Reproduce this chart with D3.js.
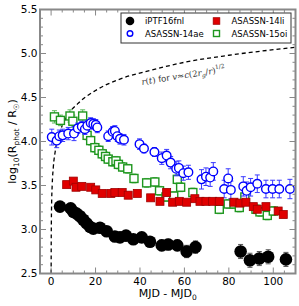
<!DOCTYPE html>
<html>
<head>
<meta charset="utf-8">
<script src="https://cdn.jsdelivr.net/npm/d3@7"></script>
<style>
  body { margin: 0; background: #fff; }
  svg { display: block; font-family: "DejaVu Sans", sans-serif; }
</style>
</head>
<body>
<div class="chart"></div>
<script>
// iPTF16fnl (filled black circles)
const fnlT = [4.0, 8.8, 10.0, 11.5, 13.0, 14.5, 16.0, 17.5, 19.0, 22.0, 25.0, 28.7, 31.0, 33.7, 37.0, 40.8, 44.5, 49.8, 52.7, 56.8, 61.0, 65.0, 85.3, 89.5, 93.7, 97.7, 105.7];
const fnlV = [3.26, 3.24, 3.20, 3.18, 3.15, 3.11, 3.07, 3.03, 3.01, 3.02, 2.98, 2.92, 2.91, 2.93, 2.89, 2.91, 2.86, 2.82, 2.83, 2.82, 2.75, 2.80, 2.75, 2.65, 2.67, 2.69, 2.66];
const fnlE = [0.05, 0.03, 0.03, 0.03, 0.03, 0.03, 0.03, 0.04, 0.04, 0.04, 0.05, 0.05, 0.05, 0.05, 0.05, 0.05, 0.05, 0.06, 0.06, 0.06, 0.07, 0.07, 0.08, 0.08, 0.08, 0.08, 0.08];

// ASASSN-14ae (open blue circles)
const aeT = [0.3, 2.5, 3.7, 5.2, 7.7, 10.3, 12.0, 13.8, 15.2, 16.3, 17.8, 19.0, 20.1, 20.8, 25.7, 27.7, 28.7, 29.8, 31.0, 32.8, 39.8, 41.8, 46.5, 49.8, 52.0, 53.8, 56.3, 57.5, 59.5, 61.8, 67.7, 69.7, 71.6, 73.0, 77.9, 79.7, 80.9, 86.5, 88.0, 89.8, 92.8, 96.7, 99.7, 102.7, 107.5];
const aeV = [4.05, 4.01, 4.06, 4.07, 4.09, 4.09, 4.15, 4.17, 4.14, 4.18, 4.21, 4.20, 4.19, 4.16, 4.06, 4.11, 4.12, 4.06, 4.03, 4.02, 3.97, 3.92, 3.88, 3.81, 3.84, 3.76, 3.69, 3.70, 3.64, 3.65, 3.57, 3.60, 3.59, 3.66, 3.46, 3.58, 3.45, 3.49, 3.44, 3.48, 3.52, 3.46, 3.46, 3.46, 3.46];
const aeE = [0.09, 0.08, 0.07, 0.07, 0.07, 0.08, 0.06, 0.06, 0.06, 0.06, 0.06, 0.06, 0.06, 0.06, 0.06, 0.06, 0.06, 0.06, 0.06, 0.06, 0.06, 0.05, 0.05, 0.07, 0.07, 0.07, 0.08, 0.08, 0.08, 0.08, 0.11, 0.1, 0.1, 0.1, 0.1, 0.11, 0.1, 0.11, 0.1, 0.1, 0.1, 0.1, 0.1, 0.1, 0.11];

// ASASSN-14li (filled red squares)
const liT = [7.0, 10.0, 11.2, 13.8, 17.8, 20.1, 23.0, 26.9, 28.7, 32.0, 34.7, 38.8, 44.8, 49.0, 52.0, 54.7, 57.7, 61.0, 64.7, 67.0, 69.7, 72.7, 75.7, 82.3, 85.0, 87.7, 91.0, 92.8, 96.7, 102.2, 104.5];
const liV = [3.51, 3.55, 3.48, 3.49, 3.48, 3.45, 3.41, 3.41, 3.42, 3.42, 3.39, 3.41, 3.36, 3.32, 3.42, 3.31, 3.32, 3.31, 3.35, 3.32, 3.32, 3.32, 3.32, 3.31, 3.30, 3.31, 3.26, 3.23, 3.26, 3.21, 3.17];
const liE = [0.03, 0.03, 0.03, 0.03, 0.03, 0.03, 0.03, 0.03, 0.03, 0.03, 0.04, 0.03, 0.03, 0.03, 0.04, 0.03, 0.03, 0.03, 0.03, 0.03, 0.03, 0.03, 0.03, 0.03, 0.03, 0.03, 0.03, 0.03, 0.03, 0.03, 0.03];

// ASASSN-15oi (open green squares)
const oiT = [1.5, 4.2, 8.5, 9.8, 14.2, 16.2, 17.8, 19.7, 21.5, 23.0, 24.5, 25.7, 27.8, 29.2, 30.3, 32.2, 34.5, 37.3, 43.0, 46.7, 48.8, 51.7, 55.2, 56.8, 58.3, 63.8, 75.7, 79.7, 82.3, 84.7, 87.2, 92.2, 94.0, 97.3, 100.0];
const oiV = [4.28, 4.24, 4.29, 4.23, 4.29, 4.07, 4.01, 3.93, 3.90, 3.86, 3.83, 3.80, 3.77, 3.78, 3.74, 3.71, 3.69, 3.58, 3.53, 3.54, 3.44, 3.37, 3.38, 3.57, 3.48, 3.42, 3.23, 3.29, 3.29, 3.25, 3.37, 3.23, 3.20, 3.16, 3.21];
const oiE = [0.07, 0.06, 0.07, 0.07, 0.07, 0.05, 0.05, 0.05, 0.05, 0.05, 0.05, 0.05, 0.05, 0.05, 0.05, 0.05, 0.05, 0.05, 0.05, 0.05, 0.05, 0.05, 0.05, 0.05, 0.05, 0.05, 0.05, 0.05, 0.05, 0.05, 0.05, 0.05, 0.05, 0.05, 0.05];

// dashed model curve
const curveT = [0.015, 0.05, 0.2, 0.5, 1, 2, 4, 7, 12, 20, 30, 45, 60, 80, 110];
const curveV = [2.50, 2.85, 3.25, 3.51, 3.71, 3.91, 4.11, 4.28, 4.43, 4.58, 4.70, 4.81, 4.90, 4.98, 5.07];

const xTicks = [0, 20, 40, 60, 80, 100];
const yTicks = [2.5, 3.0, 3.5, 4.0, 4.5, 5.0, 5.5];

const width = 299, height = 306;
const margin = {top: 9.5, right: 3.5, bottom: 32.5, left: 40};

const svg = d3.select(".chart").append("svg")
  .attr("width", width)
  .attr("height", height);

const x = d3.scaleLinear().domain([-5, 110]).range([margin.left, width - margin.right]);
const y = d3.scaleLinear().domain([2.5, 5.5]).range([height - margin.bottom, margin.top]);

svg.append("defs").append("clipPath").attr("id", "clip")
  .append("rect")
  .attr("x", margin.left).attr("y", margin.top)
  .attr("width", x.range()[1] - margin.left)
  .attr("height", y.range()[0] - margin.top);

const plot = svg.append("g").attr("clip-path", "url(#clip)");

// model curve
plot.append("path")
  .datum(curveT.map((t, i) => [t, curveV[i]]))
  .attr("fill", "none")
  .attr("stroke", "#000")
  .attr("stroke-width", 1.3)
  .attr("stroke-dasharray", "4,3")
  .attr("d", d3.line().x(d => x(d[0])).y(d => y(d[1])).curve(d3.curveMonotoneX));

function errorBars(g, T, V, E, color) {
  const rows = T.map((t, i) => ({t, v: V[i], e: E[i]}));
  const eg = g.append("g").attr("stroke", color).attr("stroke-width", 1);
  eg.selectAll(".v").data(rows).join("line")
    .attr("x1", d => x(d.t)).attr("x2", d => x(d.t))
    .attr("y1", d => y(d.v - d.e)).attr("y2", d => y(d.v + d.e));
  eg.selectAll(".c1").data(rows).join("line")
    .attr("x1", d => x(d.t) - 2.5).attr("x2", d => x(d.t) + 2.5)
    .attr("y1", d => y(d.v - d.e)).attr("y2", d => y(d.v - d.e));
  eg.selectAll(".c2").data(rows).join("line")
    .attr("x1", d => x(d.t) - 2.5).attr("x2", d => x(d.t) + 2.5)
    .attr("y1", d => y(d.v + d.e)).attr("y2", d => y(d.v + d.e));
  return rows;
}

// ASASSN-15oi
let rows = errorBars(plot, oiT, oiV, oiE, "#5cb85c");
plot.append("g").selectAll("rect").data(rows).join("rect")
  .attr("x", d => x(d.t) - 4).attr("y", d => y(d.v) - 4)
  .attr("width", 8).attr("height", 8)
  .attr("fill", "#fff").attr("stroke", "#1e961e").attr("stroke-width", 1.4);

// ASASSN-14ae
rows = errorBars(plot, aeT, aeV, aeE, "#3a3aff");
plot.append("g").selectAll("circle").data(rows).join("circle")
  .attr("cx", d => x(d.t)).attr("cy", d => y(d.v)).attr("r", 4.3)
  .attr("fill", "#fff").attr("stroke", "#0000ff").attr("stroke-width", 1.4);

// ASASSN-14li
rows = errorBars(plot, liT, liV, liE, "#ff8080");
plot.append("g").selectAll("rect").data(rows).join("rect")
  .attr("x", d => x(d.t) - 4).attr("y", d => y(d.v) - 4)
  .attr("width", 8).attr("height", 8)
  .attr("fill", "#e00000").attr("stroke", "#a00000").attr("stroke-width", 0.8);

// iPTF16fnl
rows = errorBars(plot, fnlT, fnlV, fnlE, "#555");
plot.append("g").selectAll("circle").data(rows).join("circle")
  .attr("cx", d => x(d.t)).attr("cy", d => y(d.v)).attr("r", 6.3)
  .attr("fill", "#000");

// annotation on the model curve
const ann = svg.append("text")
  .attr("transform", `translate(142,85) rotate(-9)`)
  .attr("font-size", 8.5)
  .attr("fill", "#333");
ann.append("tspan").attr("font-family", "DejaVu Serif").attr("font-style", "italic").text("r");
ann.append("tspan").attr("font-family", "DejaVu Serif").text("(");
ann.append("tspan").attr("font-family", "DejaVu Serif").attr("font-style", "italic").text("t");
ann.append("tspan").attr("font-family", "DejaVu Serif").text(")");
ann.append("tspan").text(" for ");
ann.append("tspan").attr("font-family", "DejaVu Serif").attr("font-style", "italic").text("v");
ann.append("tspan").attr("font-family", "DejaVu Serif").text("\u2248");
ann.append("tspan").attr("font-family", "DejaVu Serif").attr("font-style", "italic").text("c");
ann.append("tspan").attr("font-family", "DejaVu Serif").text("(2");
ann.append("tspan").attr("font-family", "DejaVu Serif").attr("font-style", "italic").text("r");
ann.append("tspan").attr("font-family", "DejaVu Serif").attr("font-style", "italic").attr("font-size", 6).attr("dy", 2).text("g");
ann.append("tspan").attr("font-family", "DejaVu Serif").attr("dy", -2).text("/");
ann.append("tspan").attr("font-family", "DejaVu Serif").attr("font-style", "italic").text("r");
ann.append("tspan").attr("font-family", "DejaVu Serif").text(")");
ann.append("tspan").attr("font-family", "DejaVu Serif").attr("font-size", 6).attr("dy", -4).text("1/2");

// frame and ticks
const axisColor = "#888";
const frame = svg.append("g").attr("stroke", axisColor);
const x0 = x.range()[0], x1 = x.range()[1], y0 = y.range()[0], y1 = y.range()[1];

const xMinor = d3.range(0, 111, 5);
const yMinor = d3.range(25, 56).map(d => d / 10);

frame.selectAll(".xt").data(xMinor).join("line")
  .attr("x1", d => x(d)).attr("x2", d => x(d))
  .attr("y1", y0).attr("y2", d => y0 - (d % 20 === 0 ? 6 : 3));
frame.selectAll(".xtt").data(xMinor).join("line")
  .attr("x1", d => x(d)).attr("x2", d => x(d))
  .attr("y1", y1).attr("y2", d => y1 + (d % 20 === 0 ? 6 : 3));
frame.selectAll(".yt").data(yMinor).join("line")
  .attr("y1", d => y(d)).attr("y2", d => y(d))
  .attr("x1", x0).attr("x2", d => x0 + (Math.round(d * 10) % 5 === 0 ? 6 : 3));
frame.selectAll(".ytr").data(yMinor).join("line")
  .attr("y1", d => y(d)).attr("y2", d => y(d))
  .attr("x1", x1).attr("x2", d => x1 - (Math.round(d * 10) % 5 === 0 ? 6 : 3));

svg.append("rect")
  .attr("x", x0).attr("y", y1)
  .attr("width", x1 - x0).attr("height", y0 - y1)
  .attr("fill", "none").attr("stroke", axisColor).attr("stroke-width", 2);

// tick labels
svg.append("g").selectAll("text").data(xTicks).join("text")
  .attr("x", d => x(d)).attr("y", y0 + 11)
  .attr("text-anchor", "middle").attr("font-size", 10.5)
  .text(d => d);
svg.append("g").selectAll("text").data(yTicks).join("text")
  .attr("x", x0 - 2.5).attr("y", d => y(d) + 3.8)
  .attr("text-anchor", "end").attr("font-size", 10.5)
  .text(d => d.toFixed(1));

// axis titles
const xl = svg.append("text")
  .attr("x", (x0 + x1) / 2).attr("y", y0 + 23.5)
  .attr("text-anchor", "middle").attr("font-size", 11);
xl.append("tspan").text("MJD - MJD");
xl.append("tspan").attr("font-size", 7.5).attr("dy", 2.5).text("0");

const yl = svg.append("text")
  .attr("transform", `translate(16,${(y0 + y1) / 2}) rotate(-90)`)
  .attr("text-anchor", "middle").attr("font-size", 11);
yl.append("tspan").text("log");
yl.append("tspan").attr("font-size", 7.5).attr("dy", 2.5).text("10");
yl.append("tspan").attr("dy", -2.5).text("(R");
yl.append("tspan").attr("font-size", 7.5).attr("dy", 2.5).text("phot");
yl.append("tspan").attr("dy", -2.5).text(" / R");
yl.append("tspan").attr("font-size", 7.5).attr("dy", 2.5).text("\u2609");
yl.append("tspan").attr("dy", -2.5).text(")");

// legend
const names = ["iPTF16fnl", "ASASSN-14ae", "ASASSN-14li", "ASASSN-15oi"];
const leg = svg.append("g");
leg.append("rect")
  .attr("x", 121).attr("y", 13).attr("width", 170).attr("height", 30)
  .attr("fill", "#fff").attr("stroke", "#333").attr("stroke-width", 1);
const legPos = [[130, 21], [130, 33.5], [216.5, 21], [216.5, 33.5]];
leg.append("circle").attr("cx", legPos[0][0]).attr("cy", legPos[0][1]).attr("r", 4.3).attr("fill", "#000");
leg.append("circle").attr("cx", legPos[1][0]).attr("cy", legPos[1][1]).attr("r", 2.8)
  .attr("fill", "#fff").attr("stroke", "#0000ff").attr("stroke-width", 1.4);
leg.append("rect").attr("x", legPos[2][0] - 3.3).attr("y", legPos[2][1] - 3.3).attr("width", 6.6).attr("height", 6.6)
  .attr("fill", "#e00000").attr("stroke", "#a00000").attr("stroke-width", 0.8);
leg.append("rect").attr("x", legPos[3][0] - 3).attr("y", legPos[3][1] - 3).attr("width", 6).attr("height", 6)
  .attr("fill", "#fff").attr("stroke", "#1e961e").attr("stroke-width", 1.4);
leg.selectAll(".lt").data(names).join("text")
  .attr("x", (d, i) => legPos[i][0] + 15).attr("y", (d, i) => legPos[i][1] + 3.2)
  .attr("font-size", 8.5)
  .text(d => d);
</script>
</body>
</html>
